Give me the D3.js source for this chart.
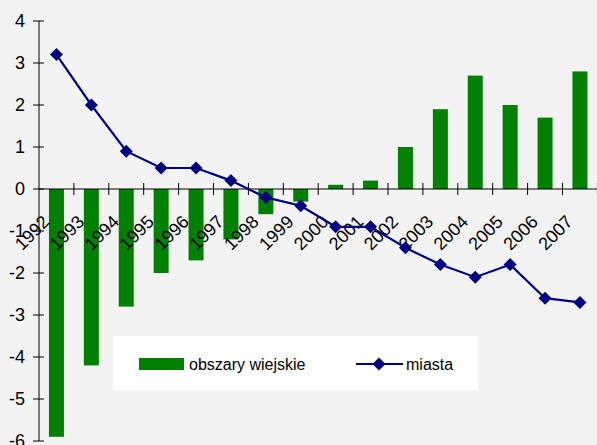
<!DOCTYPE html>
<meta charset="utf-8">
<style>
body { margin: 0; background: #f3f3f3; }
text { font-family: "Liberation Sans", Arial, sans-serif; font-size: 16px; fill: #000; }
.tick-label { font-size: 18px; }
</style>
<body>
<div id="chart"></div>
<script src="https://cdn.jsdelivr.net/npm/d3@7"></script>
<script>

var years = ['1992','1993','1994','1995','1996','1997','1998','1999',
             '2000','2001','2002','2003','2004','2005','2006','2007'];
// obszary wiejskie (bars)
var rural = [-5.9, -4.2, -2.8, -2.0, -1.7, -1.2, -0.6, -0.3,
             0.1, 0.2, 1.0, 1.9, 2.7, 2.0, 1.7, 2.8];
// miasta (line)
var cities = [3.2, 2.0, 0.9, 0.5, 0.5, 0.2, -0.2, -0.4,
              -0.9, -0.9, -1.4, -1.8, -2.1, -1.8, -2.6, -2.7];
var yTicks = [4, 3, 2, 1, 0, -1, -2, -3, -4, -5, -6];

var width = 597, height = 445;
var plotLeft = 39, plotRight = 597.4, plotTop = 21, plotBottom = 441;

var svg = d3.select('#chart').append('svg')
  .attr('width', width).attr('height', height);

svg.append('rect').attr('width', width).attr('height', height).attr('fill', '#f3f3f3');

var y = d3.scaleLinear().domain([-6, 4]).range([plotBottom, plotTop]);
var xCat = d3.scaleBand().domain(years).range([plotLeft, plotRight]).padding(0);
var xBar = d3.scaleBand().domain(years).range([plotLeft, plotRight])
  .paddingInner(0.57).paddingOuter(0.285);
var step = xCat.step();

// bars
svg.append('g').selectAll('rect').data(rural).enter().append('rect')
  .attr('x', function(d, i){ return xBar(years[i]); })
  .attr('width', xBar.bandwidth())
  .attr('y', function(d){ return y(Math.max(0, d)); })
  .attr('height', function(d){ return Math.abs(y(d) - y(0)); })
  .attr('fill', '#008000');

// y axis
var ga = svg.append('g').attr('class', 'axes');
ga.append('line').attr('x1', plotLeft).attr('x2', plotLeft).attr('y1', y(4)).attr('y2', y(-6))
  .attr('stroke', '#000').attr('stroke-width', 1);
ga.selectAll('.yt').data(yTicks).enter().append('line')
  .attr('x1', plotLeft - 6).attr('x2', plotLeft + 5)
  .attr('y1', function(d){ return y(d); }).attr('y2', function(d){ return y(d); })
  .attr('stroke', '#000');
ga.selectAll('.yl').data(yTicks).enter().append('text')
  .attr('class', 'tick-label')
  .attr('x', 25).attr('y', function(d){ return y(d); }).attr('dy', '0.35em')
  .attr('text-anchor', 'end')
  .text(function(d){ return d; });

// x axis at zero
ga.append('line').attr('x1', plotLeft).attr('x2', plotRight).attr('y1', y(0)).attr('y2', y(0))
  .attr('stroke', '#000');
var bounds = years.map(function(d){ return xCat(d); }).slice(1).concat([plotRight]);
ga.selectAll('.xt').data(bounds).enter().append('line')
  .attr('x1', function(d){ return d; }).attr('x2', function(d){ return d; })
  .attr('y1', y(0) - 6).attr('y2', y(0) + 6)
  .attr('stroke', '#000');
ga.selectAll('.xl').data(years).enter().append('text')
  .attr('class', 'tick-label')
  .attr('text-anchor', 'end')
  .attr('transform', function(d){
    var cx = xCat(d) + step / 2 - 6;
    return 'translate(' + cx + ',' + (y(0) + 34) + ') rotate(-45)';
  })
  .text(function(d){ return d; });

// line
var line = d3.line()
  .x(function(d, i){ return xCat(years[i]) + step / 2; })
  .y(function(d){ return y(d); });
svg.append('path').datum(cities).attr('d', line)
  .attr('fill', 'none').attr('stroke', '#000080').attr('stroke-width', 2.2);
svg.append('g').selectAll('path').data(cities).enter().append('path')
  .attr('d', 'M0,-6.5L6.5,0L0,6.5L-6.5,0Z')
  .attr('transform', function(d, i){ return 'translate(' + (xCat(years[i]) + step / 2) + ',' + y(d) + ')'; })
  .attr('fill', '#000080');

// legend
var lg = svg.append('g');
lg.append('rect').attr('x', 113).attr('y', 336).attr('width', 365).attr('height', 54).attr('fill', '#fff');
lg.append('rect').attr('x', 139).attr('y', 358).attr('width', 45).attr('height', 12).attr('fill', '#008000');
lg.append('text').attr('x', 189).attr('y', 364).attr('dy', '0.35em').text('obszary wiejskie');
lg.append('line').attr('x1', 356).attr('x2', 403).attr('y1', 364).attr('y2', 364)
  .attr('stroke', '#000080').attr('stroke-width', 2.2);
lg.append('path').attr('d', 'M0,-6.5L6.5,0L0,6.5L-6.5,0Z')
  .attr('transform', 'translate(379,364)').attr('fill', '#000080');
lg.append('text').attr('x', 406).attr('y', 364).attr('dy', '0.35em').text('miasta');

</script>
</body>
